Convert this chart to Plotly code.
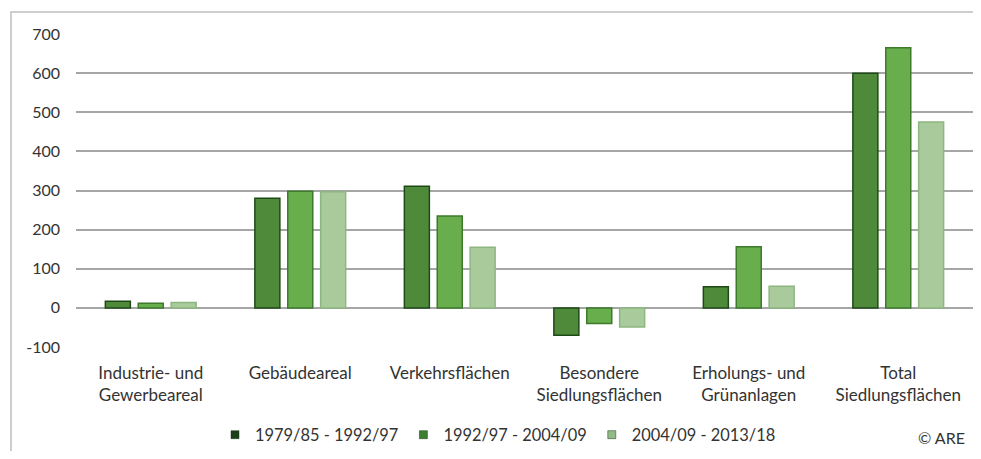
import plotly.graph_objects as go

categories = ["Industrie- und<br>Gewerbeareal", "Gebäudeareal", "Verkehrsflächen",
              "Besondere<br>Siedlungsflächen", "Erholungs- und<br>Grünanlagen",
              "Total<br>Siedlungsflächen"]
series_names = ["1979/85 - 1992/97", "1992/97 - 2004/09", "2004/09 - 2013/18"]
s1 = [17, 280, 311, -70, 54, 600]
s2 = [12, 298, 235, -40, 156, 665]
s3 = [14, 297, 155, -49, 55, 475]
tick_vals = [-100, 0, 100, 200, 300, 400, 500, 600, 700]
tick_text = ["-100", "0", "100", "200", "300", "400", "500", "600", "700"]

fills = ["#4e8a3a", "#68ae4c", "#a9cb9b"]
outlines = ["#1e4a18", "#3d7a2c", "#8db681"]
legend_colors = ["#1b3f17", "#3c7f30", "#92bb87"]

fig = go.Figure()
for name, vals, fc, lc in zip(series_names, [s1, s2, s3], fills, outlines):
    fig.add_trace(go.Bar(x=categories, y=vals, name=name, showlegend=False,
                         marker=dict(color=fc, line=dict(color=lc, width=1.5))))
# legend-only entries with small square swatches
for name, c in zip(series_names, legend_colors):
    fig.add_trace(go.Scatter(x=[None], y=[None], mode="markers", name=name,
                             marker=dict(symbol="square", size=8, color=c,
                                         line=dict(color="#1a3a16", width=0.5))))

# page has an 8px body margin; figure is sized/positioned to compensate
W, H = 973, 443
L, R, T, B = 68, 8, 26, 104
pw, ph = W - L - R, H - T - B

fig.update_layout(
    width=W, height=H,
    margin=dict(l=L, r=R, t=T, b=B, autoexpand=False),
    paper_bgcolor="white", plot_bgcolor="white",
    barmode="group", bargap=0.34, bargroupgap=0.24,
    font=dict(family="Lato", size=17, color="#333333"),
    showlegend=True,
    legend=dict(orientation="h", x=(207 - L) / pw, xanchor="left",
                y=-(427 - T - ph) / ph, yanchor="middle",
                font=dict(size=16.4, color="#333333"),
                itemwidth=30, traceorder="normal"),
    yaxis=dict(range=[-100, 700], tickvals=tick_vals, ticktext=tick_text,
               showgrid=True, gridcolor="#a6a6a6", gridwidth=1.5, zeroline=True,
               zerolinecolor="#a6a6a6", zerolinewidth=1.5, showline=False,
               ticks="", ticklabelstandoff=15, tickfont=dict(size=16)),
    xaxis=dict(showgrid=False, showline=False, ticks="", tickfont=dict(size=17),
               tickangle=0, ticklabelstandoff=14),
    annotations=[dict(text="© ARE", xref="paper", yref="paper",
                      x=(959 - L) / pw, y=-(430 - T - ph) / ph,
                      xanchor="right", yanchor="middle", showarrow=False,
                      font=dict(size=16, color="#333333"))],
    shapes=[dict(type="rect", xref="paper", yref="paper",
                 x0=(3 - L) / pw, x1=1.2, y0=-1.0, y1=1 + (T - 4) / ph,
                 line=dict(color="#bfbfbf", width=1.5), fillcolor="rgba(0,0,0,0)",
                 layer="below")],
)

fig.write_html("out.html")
